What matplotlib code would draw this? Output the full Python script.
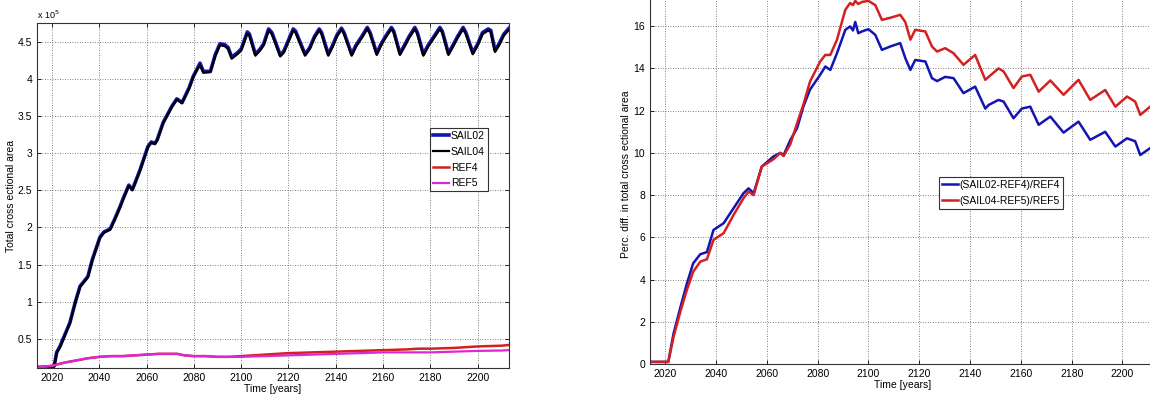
import matplotlib
matplotlib.use("Agg")
import matplotlib.pyplot as plt

plt.rcParams['font.family'] = ['Liberation Sans', 'DejaVu Sans']

# ---------------- Left panel data (units of 1e5) ----------------
sail_years = [2013.7, 2020, 2021, 2022, 2023.4, 2025.5, 2027.6, 2030, 2031.9, 2035.2, 2037,
              2040.3, 2042, 2044.6, 2046.5, 2048.8, 2050, 2052.5, 2054, 2055.5, 2057.3,
              2060.6, 2062, 2063.5, 2064.5, 2067, 2070.7, 2072.8, 2075, 2078, 2079.7,
              2082.6, 2084, 2087, 2089, 2091, 2093, 2094.5, 2096, 2098.4, 2100, 2102.6,
              2103.5, 2106, 2108, 2109.5, 2111.6, 2113, 2116.5, 2118, 2120, 2122, 2123,
              2127, 2129, 2131, 2133, 2134, 2136.8, 2138.5, 2140.5, 2142.4, 2143.5,
              2146.7, 2148.5, 2151, 2153.3, 2154.5, 2157.3, 2159, 2161, 2163.5, 2164.5,
              2167.1, 2169, 2171, 2173.4, 2174.5, 2177, 2179, 2181.5, 2184, 2185,
              2187.6, 2189.5, 2191.5, 2193.8, 2195, 2197.9, 2200, 2202, 2204.4, 2205.5,
              2207.3, 2209, 2211, 2213.2]
sail04 = [0.115, 0.115, 0.13, 0.31, 0.39, 0.55, 0.71, 1.0, 1.2, 1.33, 1.55,
          1.86, 1.93, 1.97, 2.1, 2.27, 2.37, 2.56, 2.5, 2.62, 2.77,
          3.08, 3.14, 3.12, 3.17, 3.4, 3.62, 3.72, 3.67, 3.87, 4.02,
          4.19, 4.08, 4.09, 4.3, 4.45, 4.44, 4.4, 4.27, 4.33, 4.38, 4.61,
          4.58, 4.31, 4.38, 4.45, 4.65, 4.6, 4.3, 4.35, 4.5, 4.65, 4.62,
          4.31, 4.4, 4.55, 4.65, 4.6, 4.31, 4.42, 4.57, 4.66, 4.6,
          4.31, 4.43, 4.55, 4.67, 4.6, 4.32, 4.44, 4.55, 4.67, 4.62,
          4.32, 4.43, 4.55, 4.67, 4.6, 4.31, 4.43, 4.55, 4.67, 4.62,
          4.32, 4.43, 4.55, 4.67, 4.6, 4.33, 4.45, 4.6, 4.65, 4.63,
          4.36, 4.45, 4.58, 4.66]
sail02 = [0.12, 0.12, 0.14, 0.32, 0.40, 0.56, 0.72, 1.01, 1.21, 1.34, 1.56,
          1.87, 1.94, 1.98, 2.11, 2.28, 2.38, 2.57, 2.51, 2.63, 2.78,
          3.09, 3.15, 3.13, 3.18, 3.41, 3.63, 3.73, 3.68, 3.88, 4.03,
          4.21, 4.10, 4.10, 4.32, 4.47, 4.46, 4.42, 4.29, 4.35, 4.40, 4.63,
          4.60, 4.33, 4.40, 4.47, 4.67, 4.62, 4.32, 4.37, 4.52, 4.67, 4.64,
          4.33, 4.42, 4.57, 4.67, 4.62, 4.33, 4.44, 4.59, 4.68, 4.62,
          4.33, 4.45, 4.57, 4.69, 4.62, 4.34, 4.46, 4.57, 4.69, 4.64,
          4.34, 4.45, 4.57, 4.69, 4.62, 4.33, 4.45, 4.57, 4.69, 4.64,
          4.34, 4.45, 4.57, 4.69, 4.62, 4.35, 4.47, 4.62, 4.67, 4.65,
          4.38, 4.47, 4.60, 4.68]

ref_years = [2013.7, 2020, 2025, 2030, 2035, 2040, 2045, 2050, 2055, 2060, 2065, 2070,
             2073, 2076, 2080, 2085, 2090, 2095, 2100, 2105, 2110, 2115, 2120, 2130,
             2140, 2150, 2160, 2170, 2175, 2180, 2190, 2200, 2210, 2213.2]
ref4 = [0.115, 0.14, 0.18, 0.21, 0.24, 0.26, 0.27, 0.27, 0.28, 0.29, 0.30, 0.30,
        0.30, 0.28, 0.27, 0.27, 0.26, 0.26, 0.27, 0.28, 0.29, 0.30, 0.31, 0.32,
        0.33, 0.34, 0.35, 0.36, 0.37, 0.37, 0.38, 0.40, 0.41, 0.42]
ref5 = [0.115, 0.14, 0.18, 0.21, 0.24, 0.26, 0.27, 0.27, 0.28, 0.29, 0.30, 0.30,
        0.30, 0.28, 0.27, 0.27, 0.26, 0.26, 0.26, 0.265, 0.27, 0.275, 0.28, 0.29,
        0.30, 0.31, 0.32, 0.32, 0.32, 0.32, 0.33, 0.34, 0.345, 0.35]

# ---------------- Right panel data (percent) ----------------
diff_years = [2014, 2021.2, 2023.3, 2026, 2028.5, 2031, 2033.8, 2036.4, 2039, 2043,
              2046.9, 2050.8, 2052.8, 2054.8, 2058, 2062.6, 2065.3, 2066.6, 2069.2,
              2071.9, 2074.4, 2077, 2081, 2083, 2085, 2087.6, 2090.9, 2092.8, 2093.9,
              2094.8, 2096, 2097.4, 2100, 2102.7, 2105.3, 2108.6, 2112.5, 2114.5,
              2116.5, 2118.4, 2122.4, 2125, 2127, 2130.2, 2133.5, 2137.4, 2142,
              2146, 2147.3, 2151.2, 2153.2, 2157.1, 2160.4, 2163.7, 2167, 2171.6,
              2176.8, 2182.7, 2187.3, 2193.2, 2197.2, 2201.8, 2205, 2207, 2213]
diff_sail02_ref4 = [0.1, 0.1, 1.46, 2.7, 3.8, 4.77, 5.2, 5.3, 6.35, 6.67,
                    7.38, 8.09, 8.32, 8.09, 9.35, 9.83, 10.0, 9.9, 10.6,
                    11.17, 12.2, 13.0, 13.7, 14.09, 13.93, 14.72, 15.83, 15.99, 15.8,
                    16.2, 15.67, 15.75, 15.86, 15.59, 14.88, 15.04, 15.2, 14.49,
                    13.93, 14.4, 14.33, 13.54, 13.4, 13.6, 13.54, 12.83, 13.14,
                    12.1, 12.27, 12.51, 12.43, 11.64, 12.1, 12.19, 11.33, 11.72,
                    10.96, 11.48, 10.62, 11.0, 10.3, 10.69, 10.55, 9.9, 10.4]
diff_sail04_ref5 = [0.1, 0.1, 1.3, 2.5, 3.5, 4.37, 4.85, 4.96, 5.88, 6.2,
                    7.06, 7.85, 8.17, 8.0, 9.35, 9.7, 10.0, 9.85, 10.4,
                    11.4, 12.3, 13.38, 14.33, 14.64, 14.64, 15.36, 16.78, 17.1, 17.0,
                    17.2, 17.05, 17.15, 17.2, 17.0, 16.3, 16.4, 16.54, 16.2,
                    15.36, 15.83, 15.75, 15.04, 14.8, 14.96, 14.72, 14.17, 14.64,
                    13.46, 13.6, 14.0, 13.86, 13.07, 13.62, 13.7, 12.9, 13.43,
                    12.75, 13.46, 12.51, 12.98, 12.19, 12.67, 12.43, 11.8, 12.4]

x_ticks = [2020, 2040, 2060, 2080, 2100, 2120, 2140, 2160, 2180, 2200]
left_yticks = [0.5, 1, 1.5, 2, 2.5, 3, 3.5, 4, 4.5]
left_ytick_labels = ['0.5', '1', '1.5', '2', '2.5', '3', '3.5', '4', '4.5']
right_yticks = [0, 2, 4, 6, 8, 10, 12, 14, 16]

BLUE = '#1414b4'
BLACK = '#000000'
RED = '#d42020'
MAGENTA = '#dc28d2'
FS = 7.5

fig = plt.figure(figsize=(11.5, 3.96), dpi=100)
W, H = 1150, 396


def style(ax):
    ax.grid(True, linestyle=(0, (1, 2)), color='#555555', linewidth=0.6)
    ax.tick_params(direction='in', length=3, labelsize=FS, width=0.6, top=True, right=True)
    for s in ax.spines.values():
        s.set_linewidth(0.8)
        s.set_color('#333333')


# Left axes
axL = fig.add_axes([37 / W, 1 - 368 / H, (509 - 37) / W, (368 - 23) / H])
axL.plot(sail_years, sail02, color=BLUE, lw=2.6, label='SAIL02')
axL.plot(sail_years, sail04, color=BLACK, lw=1.6, label='SAIL04')
axL.plot(ref_years, ref4, color=RED, lw=1.8, label='REF4')
axL.plot(ref_years, ref5, color=MAGENTA, lw=1.6, label='REF5')
axL.set_xlim(2013.7, 2213.2)
axL.set_ylim(0.11, 4.75)
axL.set_xticks(x_ticks)
axL.set_yticks(left_yticks)
axL.set_yticklabels(left_ytick_labels)
style(axL)
axL.set_xlabel('Time [years]', fontsize=FS, labelpad=1)
axL.set_ylabel('Total cross ectional area', fontsize=FS, labelpad=1)
axL.text(0.0, 1.005, 'x 10$^5$', transform=axL.transAxes, fontsize=6.5, va='bottom', ha='left')
legL = axL.legend(loc='upper left', bbox_to_anchor=((430 - 37) / (509 - 37), 1 - (128 - 23) / (368 - 23)),
                  fontsize=7.5, handlelength=1.5, handletextpad=0.2, borderpad=0.3,
                  labelspacing=0.55, fancybox=False, framealpha=1, edgecolor='#333333',
                  borderaxespad=0)
legL.get_frame().set_linewidth(0.8)

# Right axes (extends beyond the figure at top and right)
x0, x1 = 650, 1155.5
yb, yt = 364, -16
axR = fig.add_axes([x0 / W, 1 - yb / H, (x1 - x0) / W, (yb - yt) / H])
axR.plot(diff_years, diff_sail02_ref4, color=BLUE, lw=1.8, label='(SAIL02-REF4)/REF4')
axR.plot(diff_years, diff_sail04_ref5, color=RED, lw=1.8, label='(SAIL04-REF5)/REF5')
axR.set_xlim(2014, 2213)
axR.set_ylim(0, 18)
axR.set_xticks(x_ticks)
axR.set_yticks(right_yticks)
axR.yaxis.grid(True)
style(axR)
axR.axhline(18, color='#555555', lw=0.6, ls=(0, (1, 2)))
axR.set_xlabel('Time [years]', fontsize=FS, labelpad=1)
axR.set_ylabel('Perc. diff. in total cross ectional area', fontsize=FS, labelpad=2)
legR = axR.legend(loc='upper left', bbox_to_anchor=((939 - x0) / (x1 - x0), (yb - 177) / (yb - yt)),
                  fontsize=7.5, handlelength=1.5, handletextpad=0.2, borderpad=0.3,
                  labelspacing=0.55, fancybox=False, framealpha=1, edgecolor='#333333',
                  borderaxespad=0)
legR.get_frame().set_linewidth(0.8)

fig.savefig('out.png', dpi=100)
